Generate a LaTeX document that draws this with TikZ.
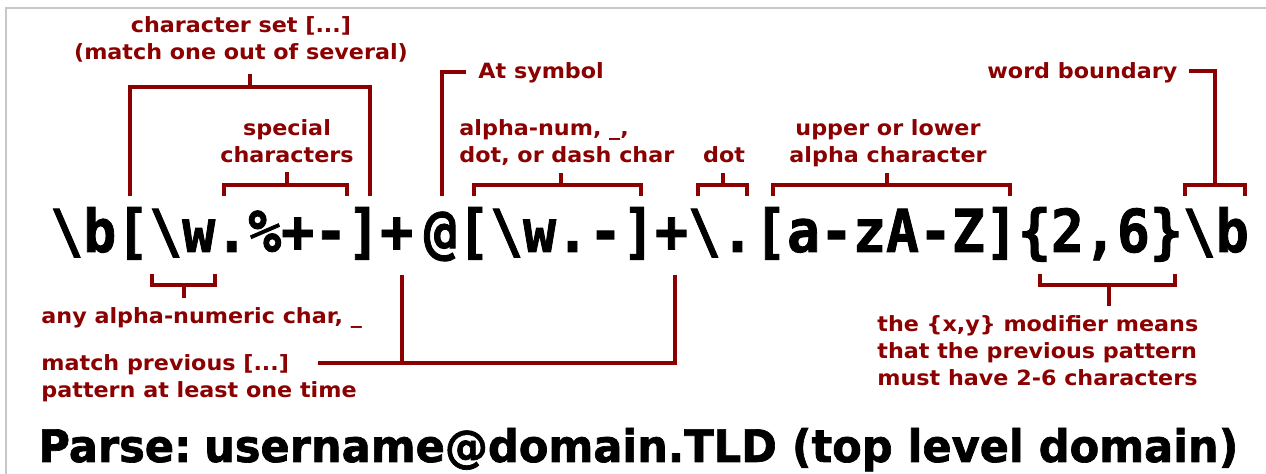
\documentclass[tikz,border=0pt]{standalone}
\usepackage{graphicx}
\usepackage{fontspec}
\setmainfont{DejaVu Sans}
\newfontfamily\regexfont{DejaVu Sans Mono}[BoldFeatures={FakeBold=1.5}]
\newfontfamily\captionfont{DejaVu Sans}[BoldFeatures={FakeBold=1.5}]

\definecolor{annot}{RGB}{139,0,0}
\definecolor{framegray}{RGB}{200,200,200}

% label text: slightly widened bold sans, one or more lines
\newcommand\lbltext[2]{\scalebox{1.06}[1]{\begin{tabular}[t]{@{}#1@{}}#2\end{tabular}}}
% bracket over/under a run of characters, with a stem
% #1 x-left, #2 x-right, #3 y of leg ends, #4 y of bar, #5 x of stem, #6 y of stem tip
\newcommand\annbracket[6]{%
  \draw[brk] (#1,#3) -- (#1,#4) -- (#2,#4) -- (#2,#3);
  \draw[brk] (#5,#4) -- (#5,#6);}

\begin{document}
\begin{tikzpicture}[x=0.5pt,y=-0.5pt,
  brk/.style={draw=annot,line width=1.75pt,line join=miter},
  lbl/.style={inner sep=0pt,text=annot,font=\bfseries\fontsize{10.5}{13.5}\selectfont},
  rx/.style={inner sep=0pt,text=black,font=\regexfont\bfseries\fontsize{27.4}{30}\selectfont}]

\useasboundingbox (0,0) rectangle (1266,474);
\fill[white] (0,0) rectangle (1266,474);

% page frame
\draw[framegray,line width=0.8pt] (6,474) -- (6,8) -- (1266,8);

% the expression
\node[rx,anchor=base west] (regex) at (49.9,252)
  {\scalebox{1}[1.08]{\textbackslash b[\textbackslash w.\%+-]+\hspace{5.5pt}@[\textbackslash w.-]+\textbackslash .[a-zA-Z]\{2,6\}\textbackslash b}};

% labels above
\node[lbl,anchor=base] (charset) at (241,33)
  {\lbltext{c}{character set [...]\\(match one out of several)}};
\node[lbl,anchor=base west] (atsym) at (478,79) {\lbltext{l}{At symbol}};
\node[lbl,anchor=base] (special) at (287,136) {\lbltext{c}{special\\characters}};
\node[lbl,anchor=base west] (alnumdot) at (459,136)
  {\lbltext{l}{alpha-num, \_,\\dot, or dash char}};
\node[lbl,anchor=base] (dotlbl) at (724,163) {\lbltext{c}{dot}};
\node[lbl,anchor=base] (alpha) at (888,136) {\lbltext{c}{upper or lower\\alpha character}};
\node[lbl,anchor=base west] (wordb) at (987,79) {\lbltext{l}{word boundary}};

% labels below
\node[lbl,anchor=base west] (anyalnum) at (41,324) {\lbltext{l}{any alpha-numeric char, \_}};
\node[lbl,anchor=base west] (plus) at (41,371)
  {\lbltext{l}{match previous [...]\\pattern at least one time}};
\node[lbl,anchor=base west] (range) at (877,332)
  {\lbltext{l}{the \{x,y\} modifier means\\that the previous pattern\\must have 2-6 characters}};

% brackets above the expression
\annbracket{130}{370}{196}{87}{250}{74}
\annbracket{224}{347}{196}{185}{287}{172}
\annbracket{474}{641}{196}{185}{561}{173}
\annbracket{698}{747}{196}{185}{723}{173}
\annbracket{773}{1010}{196}{185}{887}{173}
\annbracket{1185}{1245}{196}{185}{1215}{185}
\draw[brk] (442,196) -- (442,72) -- (466,72);
\draw[brk] (1215,185) -- (1215,71) -- (1189,71);

% brackets below the expression
\annbracket{152}{215}{274}{285}{184}{298}
\annbracket{1040}{1175}{274}{285}{1109}{306}
\draw[brk] (402,275) -- (402,363);
\draw[brk] (675,275) -- (675,363) -- (318,363);

% caption
\node[inner sep=0pt,anchor=base west] (caption) at (38,462)
  {\resizebox{600pt}{17pt}{\captionfont\bfseries Parse:\hspace{0.3em}username@domain.TLD (top level domain)}};
\end{tikzpicture}
\end{document}
